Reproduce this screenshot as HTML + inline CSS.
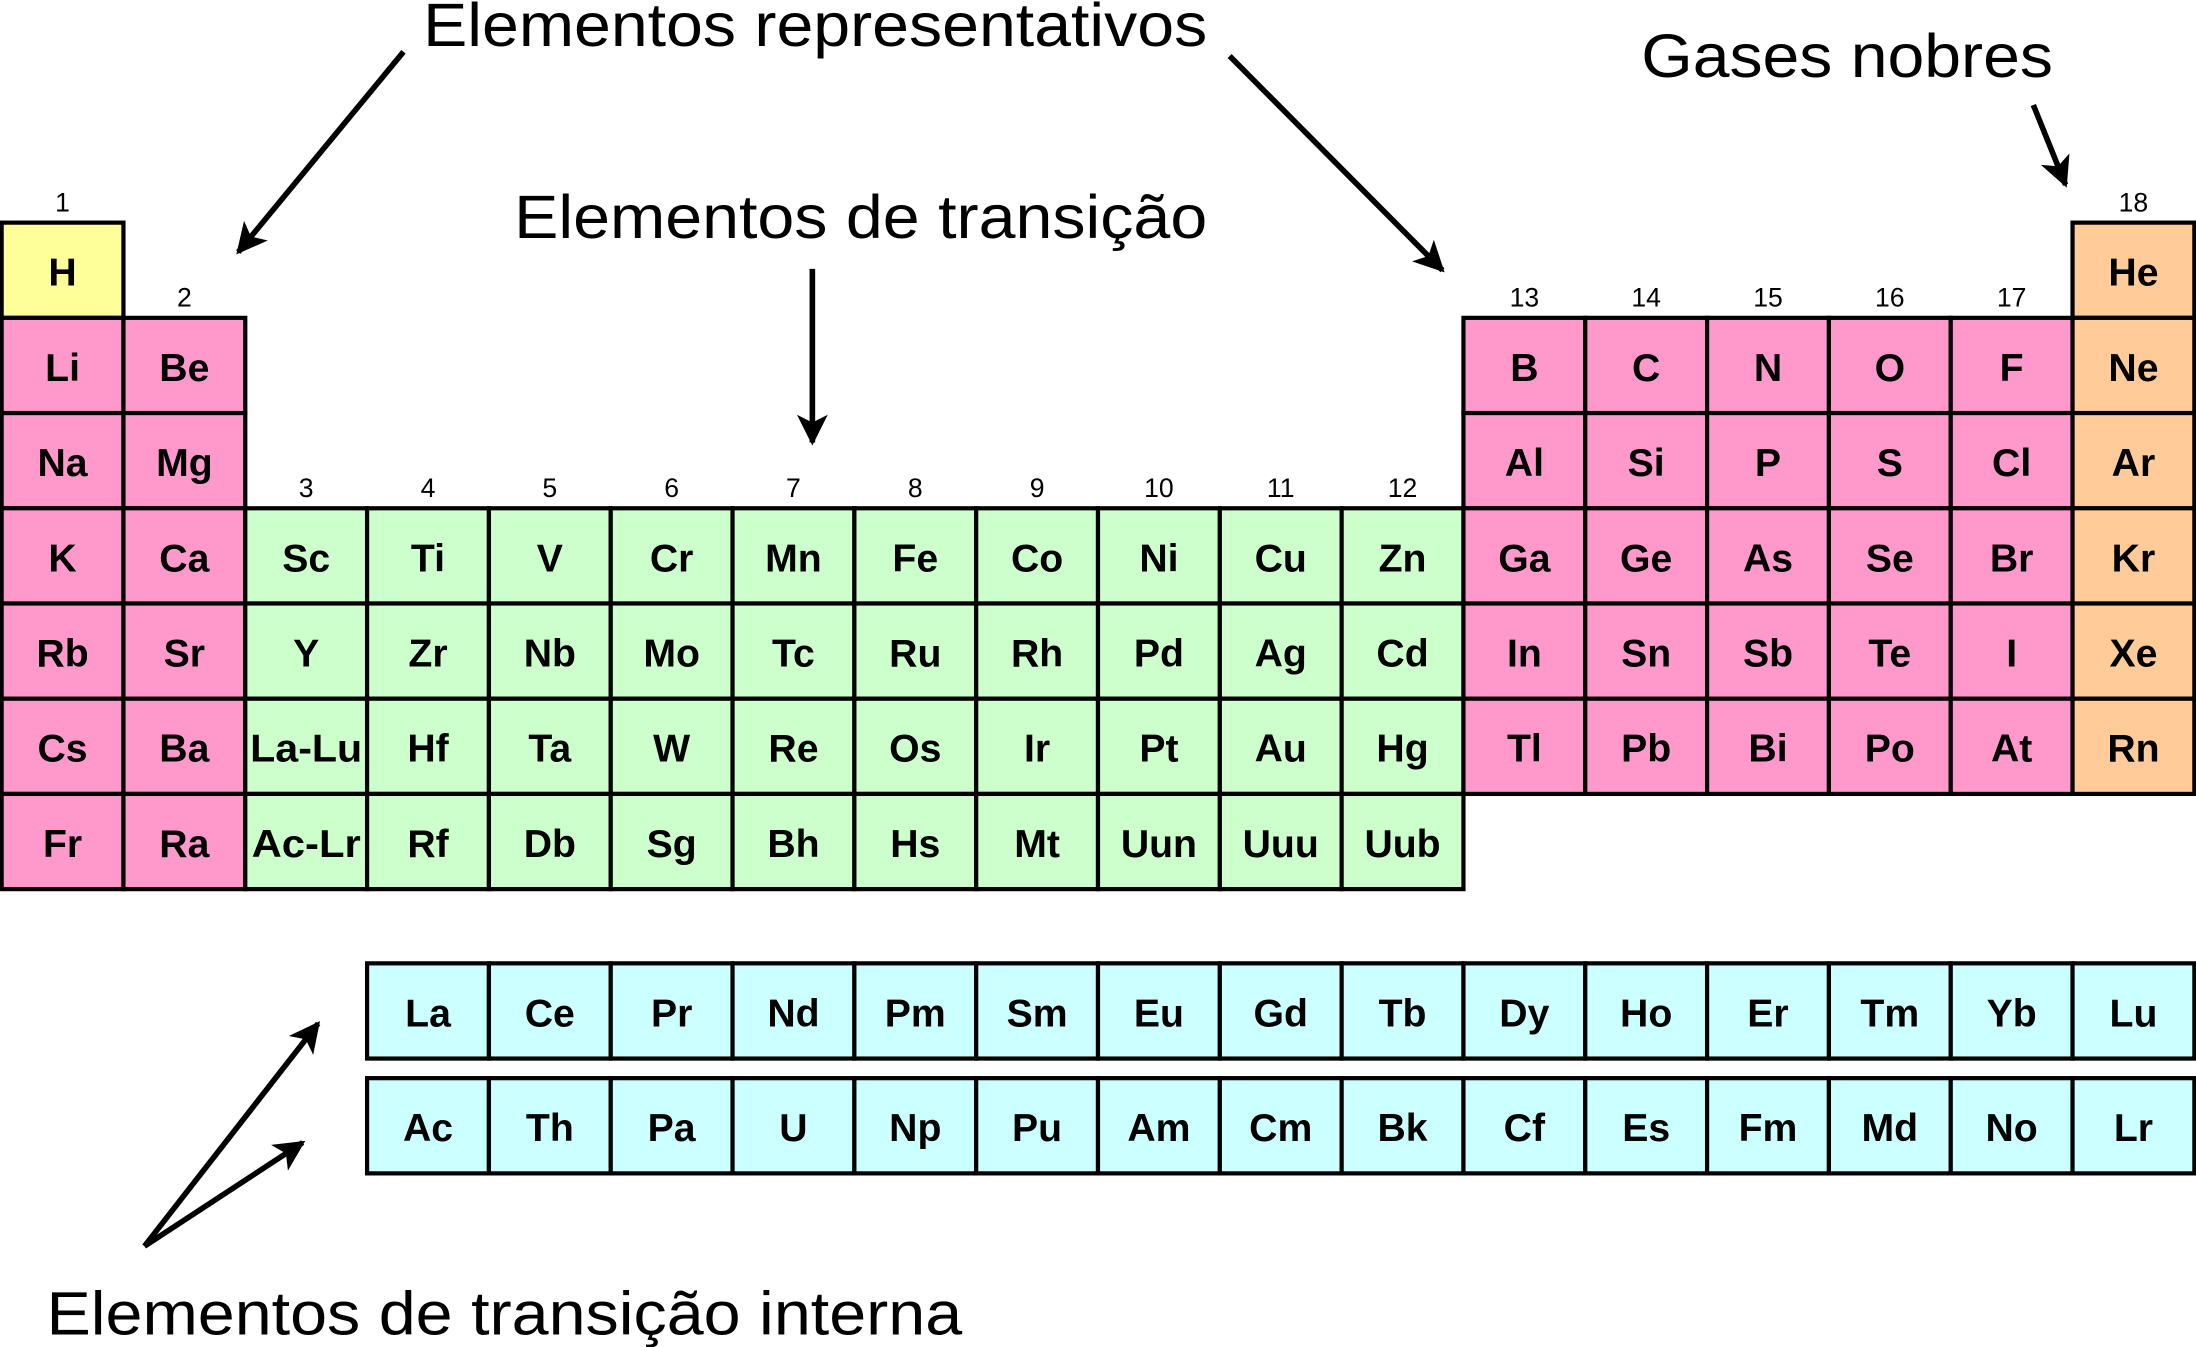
<!DOCTYPE html>
<html><head><meta charset="utf-8"><style>
html,body{margin:0;padding:0;background:#fff;}
svg{display:block;}
text{font-family:"Liberation Sans Narrow","Liberation Sans",sans-serif;}
.s{font-size:28px;font-weight:bold;text-anchor:middle;}
.g{font-size:19px;text-anchor:middle;}
.t{font-size:44px;}
rect{stroke:#000;stroke-width:3;}
.y{fill:#ffff99}.p{fill:#ff99cc}.e{fill:#ccffcc}.o{fill:#ffcc99}.c{fill:#ccffff}
</style></head><body>
<svg width="2196" height="1347" viewBox="0 0 1568 962" xmlns="http://www.w3.org/2000/svg">
<defs><marker id="a" markerWidth="10" markerHeight="10" refX="8" refY="5" orient="auto" markerUnits="userSpaceOnUse" viewBox="0 0 10 10"><path d="M0,0 L10,5 L0,10 L2.5,5 z" fill="#000"/></marker>
<marker id="b" viewBox="0 0 10 10" refX="9" refY="5" markerWidth="28" markerHeight="22" orient="auto" markerUnits="userSpaceOnUse"><path d="M0,0 L10,5 L0,10 L2.5,5 z" fill="#000"/></marker></defs>

<text class="t" x="302" y="33" textLength="560" lengthAdjust="spacingAndGlyphs">Elementos representativos</text>
<text class="t" x="1172" y="55" textLength="294" lengthAdjust="spacingAndGlyphs">Gases nobres</text>
<text class="t" x="367" y="170" textLength="495" lengthAdjust="spacingAndGlyphs">Elementos de transição</text>
<text class="t" x="33" y="953" textLength="654" lengthAdjust="spacingAndGlyphs">Elementos de transição interna</text>

<g stroke="#000" stroke-width="4" fill="none">
<line x1="288" y1="37" x2="170" y2="180" marker-end="url(#b)"/>
<line x1="878" y1="40" x2="1030" y2="193" marker-end="url(#b)"/>
<line x1="580" y1="192" x2="580" y2="316" marker-end="url(#b)"/>
<line x1="1452" y1="75" x2="1475" y2="132" marker-end="url(#b)"/>
<line x1="103" y1="890" x2="227" y2="731" marker-end="url(#b)"/>
<line x1="103" y1="890" x2="216" y2="816" marker-end="url(#b)"/>
</g>

<g class="g">
<text class="g" x="44.5" y="151">1</text><text class="g" x="1523.5" y="151">18</text>
<text class="g" x="131.5" y="219">2</text>
<text class="g" x="1088.5" y="219">13</text><text class="g" x="1175.5" y="219">14</text><text class="g" x="1262.5" y="219">15</text><text class="g" x="1349.5" y="219">16</text><text class="g" x="1436.5" y="219">17</text>
<text class="g" x="218.5" y="355">3</text><text class="g" x="305.5" y="355">4</text><text class="g" x="392.5" y="355">5</text><text class="g" x="479.5" y="355">6</text><text class="g" x="566.5" y="355">7</text><text class="g" x="653.5" y="355">8</text><text class="g" x="740.5" y="355">9</text><text class="g" x="827.5" y="355">10</text><text class="g" x="914.5" y="355">11</text><text class="g" x="1001.5" y="355">12</text>
</g>

<!-- row 1 -->
<rect class="y" x="1" y="159" width="87" height="68"/><text class="s" x="44.5" y="204">H</text>
<rect class="o" x="1480" y="159" width="87" height="68"/><text class="s" x="1523.5" y="204">He</text>
<!-- row 2 -->
<rect class="p" x="1" y="227" width="87" height="68"/><text class="s" x="44.5" y="272">Li</text>
<rect class="p" x="88" y="227" width="87" height="68"/><text class="s" x="131.5" y="272">Be</text>
<rect class="p" x="1045" y="227" width="87" height="68"/><text class="s" x="1088.5" y="272">B</text>
<rect class="p" x="1132" y="227" width="87" height="68"/><text class="s" x="1175.5" y="272">C</text>
<rect class="p" x="1219" y="227" width="87" height="68"/><text class="s" x="1262.5" y="272">N</text>
<rect class="p" x="1306" y="227" width="87" height="68"/><text class="s" x="1349.5" y="272">O</text>
<rect class="p" x="1393" y="227" width="87" height="68"/><text class="s" x="1436.5" y="272">F</text>
<rect class="o" x="1480" y="227" width="87" height="68"/><text class="s" x="1523.5" y="272">Ne</text>
<!-- row 3 -->
<rect class="p" x="1" y="295" width="87" height="68"/><text class="s" x="44.5" y="340">Na</text>
<rect class="p" x="88" y="295" width="87" height="68"/><text class="s" x="131.5" y="340">Mg</text>
<rect class="p" x="1045" y="295" width="87" height="68"/><text class="s" x="1088.5" y="340">Al</text>
<rect class="p" x="1132" y="295" width="87" height="68"/><text class="s" x="1175.5" y="340">Si</text>
<rect class="p" x="1219" y="295" width="87" height="68"/><text class="s" x="1262.5" y="340">P</text>
<rect class="p" x="1306" y="295" width="87" height="68"/><text class="s" x="1349.5" y="340">S</text>
<rect class="p" x="1393" y="295" width="87" height="68"/><text class="s" x="1436.5" y="340">Cl</text>
<rect class="o" x="1480" y="295" width="87" height="68"/><text class="s" x="1523.5" y="340">Ar</text>
<!-- row 4 -->
<rect class="p" x="1" y="363" width="87" height="68"/><text class="s" x="44.5" y="408">K</text>
<rect class="p" x="88" y="363" width="87" height="68"/><text class="s" x="131.5" y="408">Ca</text>
<rect class="e" x="175" y="363" width="87" height="68"/><text class="s" x="218.5" y="408">Sc</text>
<rect class="e" x="262" y="363" width="87" height="68"/><text class="s" x="305.5" y="408">Ti</text>
<rect class="e" x="349" y="363" width="87" height="68"/><text class="s" x="392.5" y="408">V</text>
<rect class="e" x="436" y="363" width="87" height="68"/><text class="s" x="479.5" y="408">Cr</text>
<rect class="e" x="523" y="363" width="87" height="68"/><text class="s" x="566.5" y="408">Mn</text>
<rect class="e" x="610" y="363" width="87" height="68"/><text class="s" x="653.5" y="408">Fe</text>
<rect class="e" x="697" y="363" width="87" height="68"/><text class="s" x="740.5" y="408">Co</text>
<rect class="e" x="784" y="363" width="87" height="68"/><text class="s" x="827.5" y="408">Ni</text>
<rect class="e" x="871" y="363" width="87" height="68"/><text class="s" x="914.5" y="408">Cu</text>
<rect class="e" x="958" y="363" width="87" height="68"/><text class="s" x="1001.5" y="408">Zn</text>
<rect class="p" x="1045" y="363" width="87" height="68"/><text class="s" x="1088.5" y="408">Ga</text>
<rect class="p" x="1132" y="363" width="87" height="68"/><text class="s" x="1175.5" y="408">Ge</text>
<rect class="p" x="1219" y="363" width="87" height="68"/><text class="s" x="1262.5" y="408">As</text>
<rect class="p" x="1306" y="363" width="87" height="68"/><text class="s" x="1349.5" y="408">Se</text>
<rect class="p" x="1393" y="363" width="87" height="68"/><text class="s" x="1436.5" y="408">Br</text>
<rect class="o" x="1480" y="363" width="87" height="68"/><text class="s" x="1523.5" y="408">Kr</text>
<!-- row 5 -->
<rect class="p" x="1" y="431" width="87" height="68"/><text class="s" x="44.5" y="476">Rb</text>
<rect class="p" x="88" y="431" width="87" height="68"/><text class="s" x="131.5" y="476">Sr</text>
<rect class="e" x="175" y="431" width="87" height="68"/><text class="s" x="218.5" y="476">Y</text>
<rect class="e" x="262" y="431" width="87" height="68"/><text class="s" x="305.5" y="476">Zr</text>
<rect class="e" x="349" y="431" width="87" height="68"/><text class="s" x="392.5" y="476">Nb</text>
<rect class="e" x="436" y="431" width="87" height="68"/><text class="s" x="479.5" y="476">Mo</text>
<rect class="e" x="523" y="431" width="87" height="68"/><text class="s" x="566.5" y="476">Tc</text>
<rect class="e" x="610" y="431" width="87" height="68"/><text class="s" x="653.5" y="476">Ru</text>
<rect class="e" x="697" y="431" width="87" height="68"/><text class="s" x="740.5" y="476">Rh</text>
<rect class="e" x="784" y="431" width="87" height="68"/><text class="s" x="827.5" y="476">Pd</text>
<rect class="e" x="871" y="431" width="87" height="68"/><text class="s" x="914.5" y="476">Ag</text>
<rect class="e" x="958" y="431" width="87" height="68"/><text class="s" x="1001.5" y="476">Cd</text>
<rect class="p" x="1045" y="431" width="87" height="68"/><text class="s" x="1088.5" y="476">In</text>
<rect class="p" x="1132" y="431" width="87" height="68"/><text class="s" x="1175.5" y="476">Sn</text>
<rect class="p" x="1219" y="431" width="87" height="68"/><text class="s" x="1262.5" y="476">Sb</text>
<rect class="p" x="1306" y="431" width="87" height="68"/><text class="s" x="1349.5" y="476">Te</text>
<rect class="p" x="1393" y="431" width="87" height="68"/><text class="s" x="1436.5" y="476">I</text>
<rect class="o" x="1480" y="431" width="87" height="68"/><text class="s" x="1523.5" y="476">Xe</text>
<!-- row 6 -->
<rect class="p" x="1" y="499" width="87" height="68"/><text class="s" x="44.5" y="544">Cs</text>
<rect class="p" x="88" y="499" width="87" height="68"/><text class="s" x="131.5" y="544">Ba</text>
<rect class="e" x="175" y="499" width="87" height="68"/><text class="s" x="218.5" y="544" textLength="80" lengthAdjust="spacingAndGlyphs">La-Lu</text>
<rect class="e" x="262" y="499" width="87" height="68"/><text class="s" x="305.5" y="544">Hf</text>
<rect class="e" x="349" y="499" width="87" height="68"/><text class="s" x="392.5" y="544">Ta</text>
<rect class="e" x="436" y="499" width="87" height="68"/><text class="s" x="479.5" y="544">W</text>
<rect class="e" x="523" y="499" width="87" height="68"/><text class="s" x="566.5" y="544">Re</text>
<rect class="e" x="610" y="499" width="87" height="68"/><text class="s" x="653.5" y="544">Os</text>
<rect class="e" x="697" y="499" width="87" height="68"/><text class="s" x="740.5" y="544">Ir</text>
<rect class="e" x="784" y="499" width="87" height="68"/><text class="s" x="827.5" y="544">Pt</text>
<rect class="e" x="871" y="499" width="87" height="68"/><text class="s" x="914.5" y="544">Au</text>
<rect class="e" x="958" y="499" width="87" height="68"/><text class="s" x="1001.5" y="544">Hg</text>
<rect class="p" x="1045" y="499" width="87" height="68"/><text class="s" x="1088.5" y="544">Tl</text>
<rect class="p" x="1132" y="499" width="87" height="68"/><text class="s" x="1175.5" y="544">Pb</text>
<rect class="p" x="1219" y="499" width="87" height="68"/><text class="s" x="1262.5" y="544">Bi</text>
<rect class="p" x="1306" y="499" width="87" height="68"/><text class="s" x="1349.5" y="544">Po</text>
<rect class="p" x="1393" y="499" width="87" height="68"/><text class="s" x="1436.5" y="544">At</text>
<rect class="o" x="1480" y="499" width="87" height="68"/><text class="s" x="1523.5" y="544">Rn</text>
<!-- row 7 -->
<rect class="p" x="1" y="567" width="87" height="68"/><text class="s" x="44.5" y="612">Fr</text>
<rect class="p" x="88" y="567" width="87" height="68"/><text class="s" x="131.5" y="612">Ra</text>
<rect class="e" x="175" y="567" width="87" height="68"/><text class="s" x="218.5" y="612" textLength="78" lengthAdjust="spacingAndGlyphs">Ac-Lr</text>
<rect class="e" x="262" y="567" width="87" height="68"/><text class="s" x="305.5" y="612">Rf</text>
<rect class="e" x="349" y="567" width="87" height="68"/><text class="s" x="392.5" y="612">Db</text>
<rect class="e" x="436" y="567" width="87" height="68"/><text class="s" x="479.5" y="612">Sg</text>
<rect class="e" x="523" y="567" width="87" height="68"/><text class="s" x="566.5" y="612">Bh</text>
<rect class="e" x="610" y="567" width="87" height="68"/><text class="s" x="653.5" y="612">Hs</text>
<rect class="e" x="697" y="567" width="87" height="68"/><text class="s" x="740.5" y="612">Mt</text>
<rect class="e" x="784" y="567" width="87" height="68"/><text class="s" x="827.5" y="612">Uun</text>
<rect class="e" x="871" y="567" width="87" height="68"/><text class="s" x="914.5" y="612">Uuu</text>
<rect class="e" x="958" y="567" width="87" height="68"/><text class="s" x="1001.5" y="612">Uub</text>
<!-- lanthanides -->
<rect class="c" x="262" y="688" width="87" height="68"/><text class="s" x="305.5" y="733">La</text>
<rect class="c" x="349" y="688" width="87" height="68"/><text class="s" x="392.5" y="733">Ce</text>
<rect class="c" x="436" y="688" width="87" height="68"/><text class="s" x="479.5" y="733">Pr</text>
<rect class="c" x="523" y="688" width="87" height="68"/><text class="s" x="566.5" y="733">Nd</text>
<rect class="c" x="610" y="688" width="87" height="68"/><text class="s" x="653.5" y="733">Pm</text>
<rect class="c" x="697" y="688" width="87" height="68"/><text class="s" x="740.5" y="733">Sm</text>
<rect class="c" x="784" y="688" width="87" height="68"/><text class="s" x="827.5" y="733">Eu</text>
<rect class="c" x="871" y="688" width="87" height="68"/><text class="s" x="914.5" y="733">Gd</text>
<rect class="c" x="958" y="688" width="87" height="68"/><text class="s" x="1001.5" y="733">Tb</text>
<rect class="c" x="1045" y="688" width="87" height="68"/><text class="s" x="1088.5" y="733">Dy</text>
<rect class="c" x="1132" y="688" width="87" height="68"/><text class="s" x="1175.5" y="733">Ho</text>
<rect class="c" x="1219" y="688" width="87" height="68"/><text class="s" x="1262.5" y="733">Er</text>
<rect class="c" x="1306" y="688" width="87" height="68"/><text class="s" x="1349.5" y="733">Tm</text>
<rect class="c" x="1393" y="688" width="87" height="68"/><text class="s" x="1436.5" y="733">Yb</text>
<rect class="c" x="1480" y="688" width="87" height="68"/><text class="s" x="1523.5" y="733">Lu</text>
<!-- actinides -->
<rect class="c" x="262" y="770" width="87" height="68"/><text class="s" x="305.5" y="815">Ac</text>
<rect class="c" x="349" y="770" width="87" height="68"/><text class="s" x="392.5" y="815">Th</text>
<rect class="c" x="436" y="770" width="87" height="68"/><text class="s" x="479.5" y="815">Pa</text>
<rect class="c" x="523" y="770" width="87" height="68"/><text class="s" x="566.5" y="815">U</text>
<rect class="c" x="610" y="770" width="87" height="68"/><text class="s" x="653.5" y="815">Np</text>
<rect class="c" x="697" y="770" width="87" height="68"/><text class="s" x="740.5" y="815">Pu</text>
<rect class="c" x="784" y="770" width="87" height="68"/><text class="s" x="827.5" y="815">Am</text>
<rect class="c" x="871" y="770" width="87" height="68"/><text class="s" x="914.5" y="815">Cm</text>
<rect class="c" x="958" y="770" width="87" height="68"/><text class="s" x="1001.5" y="815">Bk</text>
<rect class="c" x="1045" y="770" width="87" height="68"/><text class="s" x="1088.5" y="815">Cf</text>
<rect class="c" x="1132" y="770" width="87" height="68"/><text class="s" x="1175.5" y="815">Es</text>
<rect class="c" x="1219" y="770" width="87" height="68"/><text class="s" x="1262.5" y="815">Fm</text>
<rect class="c" x="1306" y="770" width="87" height="68"/><text class="s" x="1349.5" y="815">Md</text>
<rect class="c" x="1393" y="770" width="87" height="68"/><text class="s" x="1436.5" y="815">No</text>
<rect class="c" x="1480" y="770" width="87" height="68"/><text class="s" x="1523.5" y="815">Lr</text>
</svg>
</body></html>
